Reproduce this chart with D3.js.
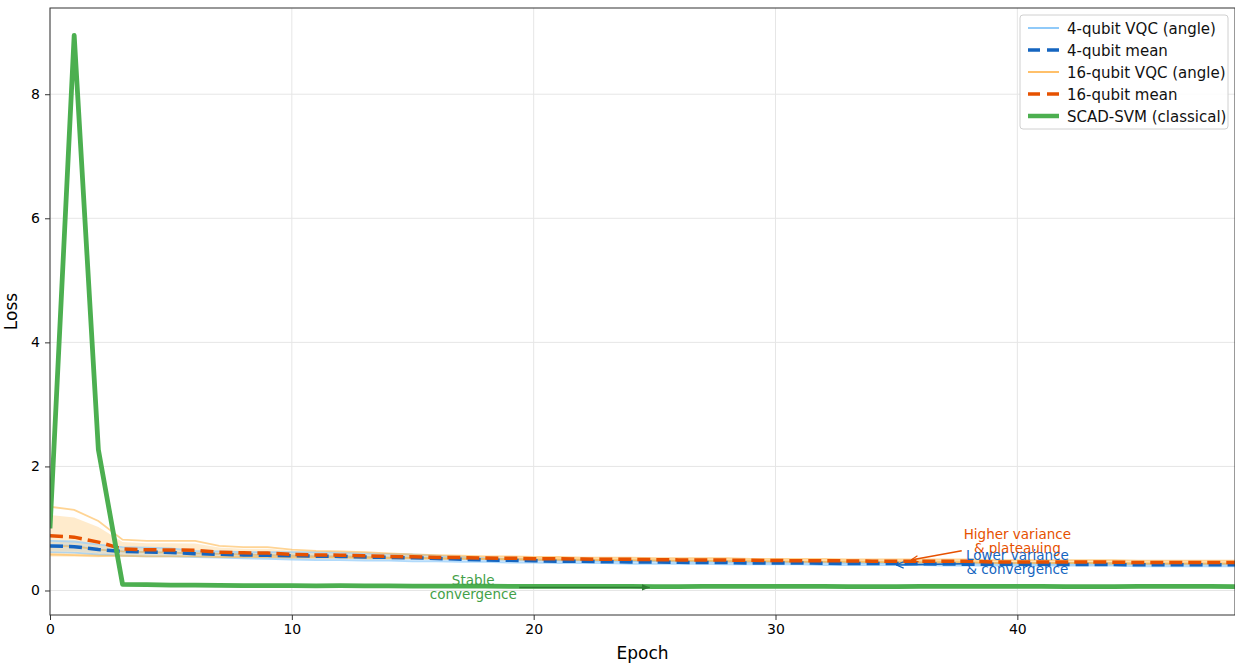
<!DOCTYPE html>
<html>
<head>
<meta charset="utf-8">
<script src="https://cdn.jsdelivr.net/npm/d3@7"></script>
<style>
  body { margin: 0; background: #fff; }
  svg { display: block; font-family: "DejaVu Sans", sans-serif; }
</style>
</head>
<body>
<div id="chart"></div>
<script>
// loss per epoch
let epochs = d3.range(50);

let q4Runs = [
  [0.80,0.79,0.74,0.70,0.69,0.68,0.64,0.63,0.62,0.62, 0.62,0.62,0.61,0.60,0.59,0.58,0.56,0.54,0.52,0.51,
   0.50,0.49,0.49,0.48,0.48,0.48,0.47,0.47,0.47,0.46, 0.46,0.46,0.46,0.45,0.45,0.45,0.45,0.45,0.44,0.44,
   0.44,0.44,0.44,0.44,0.44,0.43,0.43,0.43,0.43,0.43],
  [0.73,0.72,0.66,0.63,0.62,0.61,0.60,0.59,0.58,0.57, 0.56,0.55,0.55,0.54,0.53,0.53,0.52,0.51,0.50,0.50,
   0.49,0.48,0.48,0.47,0.47,0.47,0.46,0.46,0.46,0.45, 0.45,0.45,0.45,0.44,0.44,0.44,0.44,0.43,0.43,0.43,
   0.43,0.43,0.42,0.42,0.42,0.42,0.42,0.42,0.42,0.42],
  [0.62,0.61,0.58,0.56,0.55,0.55,0.54,0.53,0.52,0.51, 0.50,0.49,0.49,0.48,0.48,0.47,0.47,0.46,0.46,0.45,
   0.45,0.44,0.44,0.44,0.43,0.43,0.43,0.43,0.42,0.42, 0.42,0.42,0.41,0.41,0.41,0.41,0.41,0.40,0.40,0.40,
   0.40,0.40,0.40,0.40,0.40,0.39,0.39,0.39,0.39,0.39]
];

let q16Runs = [
  [1.35,1.30,1.12,0.82,0.80,0.80,0.80,0.72,0.70,0.70, 0.66,0.64,0.63,0.62,0.60,0.58,0.57,0.56,0.55,0.55,
   0.54,0.54,0.53,0.53,0.53,0.52,0.52,0.52,0.52,0.51, 0.51,0.51,0.51,0.50,0.50,0.50,0.50,0.50,0.50,0.49,
   0.49,0.49,0.49,0.49,0.49,0.48,0.48,0.48,0.48,0.48],
  [0.72,0.71,0.66,0.63,0.62,0.61,0.60,0.59,0.58,0.57, 0.56,0.55,0.55,0.54,0.53,0.53,0.52,0.52,0.51,0.51,
   0.50,0.50,0.50,0.49,0.49,0.49,0.48,0.48,0.48,0.48, 0.47,0.47,0.47,0.47,0.46,0.46,0.46,0.46,0.46,0.45,
   0.45,0.45,0.45,0.45,0.45,0.44,0.44,0.44,0.44,0.44],
  [0.58,0.57,0.56,0.56,0.55,0.55,0.55,0.54,0.54,0.54, 0.53,0.53,0.53,0.52,0.52,0.52,0.51,0.51,0.51,0.50,
   0.50,0.50,0.49,0.49,0.49,0.48,0.48,0.48,0.47,0.47, 0.47,0.46,0.46,0.46,0.46,0.45,0.45,0.45,0.45,0.44,
   0.44,0.44,0.44,0.44,0.43,0.43,0.43,0.43,0.43,0.43]
];

let svmLoss = [1.00,8.95,2.27,0.10,0.095,0.088,0.085,0.083,0.080,0.078, 0.077,0.076,0.078,0.075,0.073,0.072,0.070,0.070,0.069,0.068,
   0.067,0.066,0.066,0.065,0.065,0.064,0.064,0.068,0.067,0.066, 0.066,0.065,0.065,0.064,0.064,0.063,0.068,0.067,0.066,0.066,
   0.065,0.065,0.064,0.064,0.063,0.067,0.066,0.065,0.065,0.064];

let xTicks = [0, 10, 20, 30, 40],
    yTicks = [0, 2, 4, 6, 8];

let width = 1235, height = 664,
    margin = {left: 50, top: 8, right: 0, bottom: 49},
    plotW = width - margin.left - margin.right,
    plotH = height - margin.top - margin.bottom;

let col = {
  q4: '#90caf9', q4mean: '#1565c0',
  q16: '#ffcc80', q16mean: '#e65100',
  svm: '#4caf50'
};

let svg = d3.select('#chart').append('svg')
    .attr('width', width)
    .attr('height', height);

let g = svg.append('g')
    .attr('transform', `translate(${margin.left}, ${margin.top})`);

let x = d3.scaleLinear().domain([0, 49]).range([0, plotW]);
let y = d3.scaleLinear().domain([-0.395, 9.39]).range([plotH, 0]);

g.append('clipPath').attr('id', 'clip')
  .append('rect').attr('width', plotW).attr('height', plotH);

// grid
g.append('g').selectAll('line').data(xTicks).join('line')
    .attr('x1', d => x(d)).attr('x2', d => x(d))
    .attr('y1', 0).attr('y2', plotH)
    .attr('stroke', '#e6e6e6').attr('stroke-width', 1);
g.append('g').selectAll('line').data(yTicks).join('line')
    .attr('y1', d => y(d)).attr('y2', d => y(d))
    .attr('x1', 0).attr('x2', plotW)
    .attr('stroke', '#e6e6e6').attr('stroke-width', 1);

let plot = g.append('g').attr('clip-path', 'url(#clip)');

function stats(runs) {
  return epochs.map(i => {
    let vals = runs.map(r => r[i]);
    let m = d3.mean(vals);
    let sd = Math.sqrt(d3.mean(vals, v => (v - m) * (v - m)));
    return {e: i, mean: m, lo: m - sd, hi: m + sd};
  });
}

let line = d3.line().x((d, i) => x(i)).y(d => y(d));
let meanLine = d3.line().x(d => x(d.e)).y(d => y(d.mean));
let band = d3.area().x(d => x(d.e)).y0(d => y(d.lo)).y1(d => y(d.hi));

let s4 = stats(q4Runs), s16 = stats(q16Runs);

plot.append('path').datum(s4).attr('d', band)
    .attr('fill', col.q4).attr('opacity', 0.4);
plot.append('path').datum(s16).attr('d', band)
    .attr('fill', col.q16).attr('opacity', 0.4);

q4Runs.forEach(r => {
  plot.append('path').datum(r).attr('d', line)
      .attr('fill', 'none').attr('stroke', col.q4)
      .attr('stroke-width', 1.8).attr('opacity', 0.7);
});
q16Runs.forEach(r => {
  plot.append('path').datum(r).attr('d', line)
      .attr('fill', 'none').attr('stroke', '#ffb74d')
      .attr('stroke-width', 1.8).attr('opacity', 0.6);
});

plot.append('path').datum(s4).attr('d', meanLine)
    .attr('fill', 'none').attr('stroke', col.q4mean)
    .attr('stroke-width', 3.5).attr('stroke-dasharray', '13,6');
plot.append('path').datum(s16).attr('d', meanLine)
    .attr('fill', 'none').attr('stroke', col.q16mean)
    .attr('stroke-width', 3.5).attr('stroke-dasharray', '13,6');

plot.append('path').datum(svmLoss).attr('d', line)
    .attr('fill', 'none').attr('stroke', col.svm)
    .attr('stroke-width', 4.8).attr('stroke-linejoin', 'round');

// annotations
let defs = svg.append('defs');
function arrowHead(id, color, open) {
  let m = defs.append('marker').attr('id', id)
      .attr('viewBox', '0 0 10 10').attr('refX', 10).attr('refY', 5)
      .attr('markerWidth', 8).attr('markerHeight', 8)
      .attr('markerUnits', 'userSpaceOnUse').attr('orient', 'auto');
  if (open) {
    m.append('path').attr('d', 'M1,1 L10,5 L1,9').attr('fill', 'none')
        .attr('stroke', color).attr('stroke-width', 1.5);
  } else {
    m.append('path').attr('d', 'M0,1 L10,5 L0,9 Z').attr('fill', color);
  }
}
arrowHead('ahGreen', '#2e7d32', false);
arrowHead('ahOrange', col.q16mean, true);
arrowHead('ahBlue', col.q4mean, true);

let notes = [
  {lines: ['Stable', 'convergence'], color: '#43a047', tx: 17.5, ty: 0.05,
   from: [19.4, 0.05], to: [24.8, 0.05], marker: 'ahGreen', stroke: '#2e7d32'},
  {lines: ['Higher variance', '& plateauing'], color: col.q16mean, tx: 40.0, ty: 0.79,
   from: [37.7, 0.64], to: [35.6, 0.49], marker: 'ahOrange', stroke: col.q16mean},
  {lines: ['Lower variance', '& convergence'], color: col.q4mean, tx: 40.0, ty: 0.45,
   from: [37.8, 0.43], to: [35.0, 0.41], marker: 'ahBlue', stroke: col.q4mean}
];

notes.forEach(n => {
  g.append('line')
      .attr('x1', x(n.from[0])).attr('y1', y(n.from[1]))
      .attr('x2', x(n.to[0])).attr('y2', y(n.to[1]))
      .attr('stroke', n.stroke).attr('stroke-width', 1.5)
      .attr('marker-end', `url(#${n.marker})`);
  let t = g.append('text')
      .attr('x', x(n.tx)).attr('y', y(n.ty))
      .attr('text-anchor', 'middle').attr('fill', n.color)
      .attr('font-size', 13.5);
  n.lines.forEach((l, i) => {
    t.append('tspan').attr('x', x(n.tx)).attr('dy', i === 0 ? '-0.2em' : '1.05em').text(l);
  });
});

// axes
let xAxis = g.append('g').attr('transform', `translate(0, ${plotH})`)
    .call(d3.axisBottom(x).tickValues(xTicks).tickSize(5).tickPadding(4));
let yAxis = g.append('g')
    .call(d3.axisLeft(y).tickValues(yTicks).tickSize(5).tickPadding(5));
[xAxis, yAxis].forEach(a => {
  a.select('.domain').remove();
  a.selectAll('text').attr('font-size', 14).attr('fill', '#000')
      .attr('font-family', '"DejaVu Sans", sans-serif');
  a.selectAll('line').attr('stroke', '#333');
});

g.append('rect').attr('width', plotW).attr('height', plotH)
    .attr('fill', 'none').attr('stroke', '#333').attr('stroke-width', 1);

g.append('text').attr('x', plotW / 2).attr('y', plotH + 44)
    .attr('text-anchor', 'middle').attr('font-size', 17).text('Epoch');
g.append('text')
    .attr('transform', `translate(${-33}, ${plotH / 2}) rotate(-90)`)
    .attr('text-anchor', 'middle').attr('font-size', 17).text('Loss');

// legend
let legendItems = [
  {label: '4-qubit VQC (angle)', color: col.q4, w: 2, dash: null},
  {label: '4-qubit mean', color: col.q4mean, w: 3.5, dash: '12,7'},
  {label: '16-qubit VQC (angle)', color: '#ffc06a', w: 2, dash: null},
  {label: '16-qubit mean', color: col.q16mean, w: 3.5, dash: '12,7'},
  {label: 'SCAD-SVM (classical)', color: col.svm, w: 4.5, dash: null}
];

let legend = svg.append('g').attr('transform', 'translate(1020, 15)');
legend.append('rect').attr('width', 208).attr('height', 114)
    .attr('rx', 3).attr('fill', '#fff').attr('fill-opacity', 0.85)
    .attr('stroke', '#d0d0d0');
let li = legend.selectAll('g.item').data(legendItems).join('g')
    .attr('class', 'item')
    .attr('transform', (d, i) => `translate(0, ${13 + i * 22})`);
li.append('line').attr('x1', 8).attr('x2', 39)
    .attr('stroke', d => d.color).attr('stroke-width', d => d.w)
    .attr('stroke-dasharray', d => d.dash);
li.append('text').attr('x', 47).attr('y', 5.5).attr('font-size', 15)
    .attr('fill', '#111').text(d => d.label);
</script>
</body>
</html>
